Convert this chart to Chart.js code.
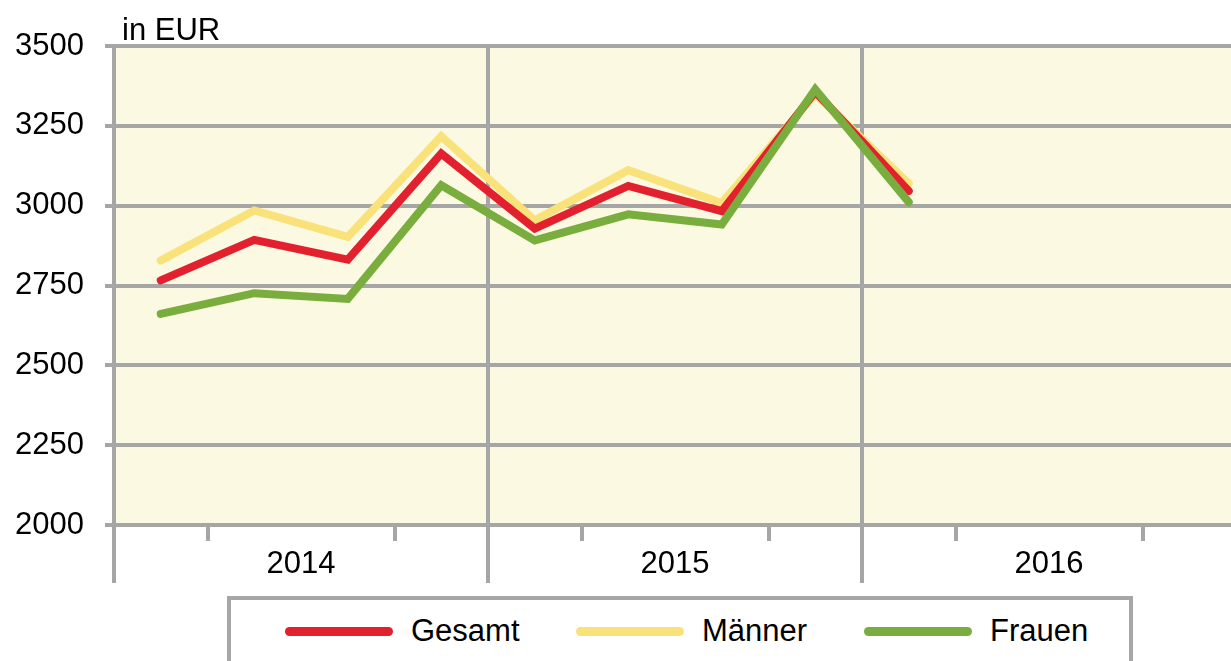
<!DOCTYPE html>
<html>
<head>
<meta charset="utf-8">
<script src="https://cdn.jsdelivr.net/npm/chart.js@4/dist/chart.umd.min.js"></script>
<style>
  html, body { margin: 0; padding: 0; background: #fff; overflow: hidden; }
  #wrap { position: relative; width: 1231px; height: 661px; overflow: hidden; font-family: "Liberation Sans", Arial, sans-serif; }
  #c { position: absolute; left: 0; top: 0; }
  #unit { position: absolute; left: 122px; top: 14px; font-size: 31px; line-height: 31px; color: #000; }
  #legend { position: absolute; left: 227px; top: 596px; width: 906px; height: 100px; border: 4px solid #a6a6a6; background: #fff; box-sizing: border-box; }
  .item { position: absolute; top: 13px; height: 36px; display: flex; align-items: center; }
  .sw { width: 108px; height: 9px; border-radius: 4.5px; margin-right: 18px; }
  .lbl { font-size: 31px; line-height: 36px; color: #000; }
</style>
</head>
<body>
<div id="wrap">
  <canvas id="c" width="1240" height="661"></canvas>
  <div id="unit">in EUR</div>
  <div id="legend"></div>
</div>
<script>
const quarters = ['2014 Q1','2014 Q2','2014 Q3','2014 Q4','2015 Q1','2015 Q2','2015 Q3','2015 Q4','2016 Q1','2016 Q2','2016 Q3','2016 Q4'];
const years = ['2014','2015','2016'];
const gesamt = [2766, 2893, 2831, 3163, 2928, 3062, 2983, 3357, 3046];
const maenner = [2828, 2985, 2902, 3217, 2954, 3111, 3008, 3350, 3069];
const frauen = [2661, 2726, 2708, 3064, 2891, 2973, 2941, 3364, 3011];
const yTicks = { min: 2000, max: 3500, major: 250, minor: 125 };

const GRAY = '#a6a6a6';
const FONT = { family: '"Liberation Sans", Arial, sans-serif', size: 31 };
const series = [
  { label: 'Gesamt', data: gesamt, color: '#e3202e', order: 1 },
  { label: 'Männer', data: maenner, color: '#f9e27a', order: 2 },
  { label: 'Frauen', data: frauen, color: '#79ad3e', order: 0 }
];

const bgPlugin = {
  id: 'bg',
  beforeDraw(chart) {
    const { ctx, chartArea: a } = chart;
    ctx.save();
    ctx.fillStyle = '#fcf9e3';
    ctx.fillRect(a.left, a.top, a.right - a.left, a.bottom - a.top);
    ctx.restore();
  }
};

new Chart(document.getElementById('c'), {
  type: 'line',
  data: {
    labels: quarters,
    datasets: series.map(s => ({
      label: s.label, data: s.data, borderColor: s.color, backgroundColor: s.color,
      borderWidth: 8, pointRadius: 0, tension: 0, order: s.order,
      borderCapStyle: 'round', borderJoinStyle: 'miter', fill: false
    }))
  },
  options: {
    responsive: false, animation: false, devicePixelRatio: 1,
    layout: { padding: { left: 0, top: 46, right: 4, bottom: 0 } },
    plugins: { legend: { display: false }, tooltip: { enabled: false } },
    scales: {
      x: {
        type: 'category', offset: true, position: 'bottom',
        grid: {
          offset: true, drawOnChartArea: false, lineWidth: 4, tickLength: 16,
          tickColor: ctx => (ctx.index !== undefined && ctx.index % 2 === 1) ? GRAY : 'rgba(0,0,0,0)'
        },
        border: { display: false },
        ticks: { display: false },
        afterFit: s => { s.height = 0; }
      },
      years: {
        type: 'category', labels: years, offset: true, position: 'bottom',
        grid: { offset: true, drawOnChartArea: true, color: GRAY, lineWidth: 4, tickLength: 58, tickColor: GRAY },
        border: { display: false },
        ticks: { color: '#000', font: FONT, padding: -37, maxRotation: 0, autoSkip: false },
        afterFit: s => { s.height = 136; }
      },
      y: {
        min: yTicks.min, max: yTicks.max,
        ticks: {
          stepSize: yTicks.minor, color: '#000', font: FONT, padding: 21,
          callback: v => (v % yTicks.major === 0 ? String(v) : '')
        },
        grid: {
          lineWidth: 4, tickLength: 9, tickColor: GRAY,
          color: ctx => (ctx.tick && ctx.tick.value % yTicks.major === 0) ? GRAY : 'rgba(0,0,0,0)'
        },
        border: { display: true, color: GRAY, width: 4 },
        afterFit: s => { s.width = 114; }
      }
    }
  },
  plugins: [bgPlugin]
});

const legendLefts = [285, 576, 864];
const lg = document.getElementById('legend');
series.forEach((s, i) => {
  const it = document.createElement('div');
  it.className = 'item';
  it.style.left = (legendLefts[i] - 231) + 'px';
  const sw = document.createElement('div'); sw.className = 'sw'; sw.style.background = s.color;
  const tx = document.createElement('span'); tx.className = 'lbl'; tx.textContent = s.label;
  it.appendChild(sw); it.appendChild(tx); lg.appendChild(it);
});
</script>
</body>
</html>
